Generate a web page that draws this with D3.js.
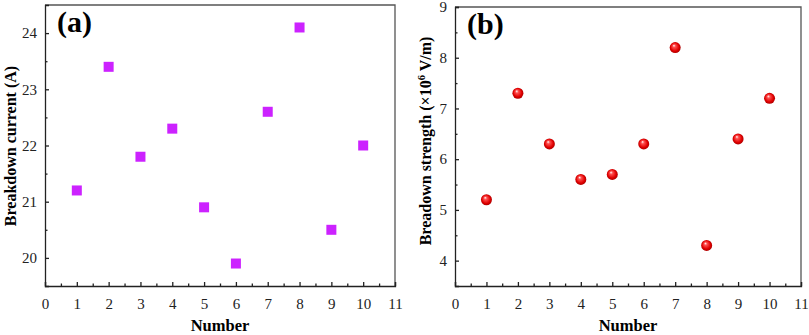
<!DOCTYPE html>
<html>
<head>
<meta charset="utf-8">
<script src="https://cdn.jsdelivr.net/npm/d3@7/dist/d3.min.js"></script>
<style>
  body { margin: 0; background: #fff; }
  svg { display: block; font-family: "Liberation Serif", "Times New Roman", serif; }
</style>
</head>
<body>
<div id="chart"></div>
<script>
const numbers = [1, 2, 3, 4, 5, 6, 7, 8, 9, 10];
const currentValues = [21.2, 23.4, 21.8, 22.3, 20.9, 19.9, 22.6, 24.1, 20.5, 22.0];
const strengthValues = [5.2, 7.3, 6.3, 5.6, 5.7, 6.3, 8.2, 4.3, 6.4, 7.2];
const xTicks = [0, 1, 2, 3, 4, 5, 6, 7, 8, 9, 10, 11];
const currentTicks = [20, 21, 22, 23, 24];
const strengthTicks = [4, 5, 6, 7, 8, 9];

const width = 809;
const height = 335;

const svg = d3.select('#chart').append('svg')
    .attr('width', width)
    .attr('height', height);

const defs = svg.append('defs');
const grad = defs.append('radialGradient')
    .attr('id', 'ball')
    .attr('cx', '50%').attr('cy', '50%').attr('r', '55%')
    .attr('fx', '38%').attr('fy', '30%');
grad.append('stop').attr('offset', '0%').attr('stop-color', '#ffffff');
grad.append('stop').attr('offset', '25%').attr('stop-color', '#ff5050');
grad.append('stop').attr('offset', '70%').attr('stop-color', '#e00000');
grad.append('stop').attr('offset', '100%').attr('stop-color', '#a00000');

function drawPanel(opts) {
  const g = svg.append('g');
  const x = d3.scaleLinear([0, 11], [opts.left, opts.right]);
  const y = d3.scaleLinear(opts.yDomain, [opts.bottom, opts.top]);

  // frame (top & right)
  g.append('path')
      .attr('d', `M${opts.left},${opts.top}H${opts.right}V${opts.bottom}`)
      .attr('fill', 'none')
      .attr('stroke', '#555')
      .attr('stroke-width', 1.3);

  // x axis
  g.append('g')
      .attr('transform', `translate(0,${opts.bottom})`)
      .call(d3.axisBottom(x).tickValues(xTicks).tickSize(-4).tickPadding(12).tickFormat(d3.format('d')));
  g.append('g')
      .attr('transform', `translate(0,${opts.bottom})`)
      .call(d3.axisBottom(x).tickValues(xTicks.slice(0, -1).map(d => d + 0.5)).tickSize(-2.5).tickFormat(''))
      .call(a => a.select('.domain').remove());

  // y axis
  g.append('g')
      .attr('transform', `translate(${opts.left},0)`)
      .call(d3.axisLeft(y).tickValues(opts.yTicks).tickSize(-4).tickPadding(8).tickFormat(d3.format('d')));
  const minor = opts.yTicks.map(d => d - 0.5).concat([opts.yTicks[opts.yTicks.length - 1] + 0.5])
      .filter(d => d > opts.yDomain[0] && d < opts.yDomain[1]);
  g.append('g')
      .attr('transform', `translate(${opts.left},0)`)
      .call(d3.axisLeft(y).tickValues(minor).tickSize(-2.5).tickFormat(''))
      .call(a => a.select('.domain').remove());

  g.selectAll('.domain, .tick line').attr('stroke', '#222').attr('stroke-width', 1.3);
  g.selectAll('.tick text')
      .attr('font-family', '"Liberation Serif", serif')
      .attr('font-size', 15)
      .attr('fill', '#222');

  // titles
  g.append('text')
      .attr('x', (opts.left + opts.right) / 2)
      .attr('y', 331)
      .attr('text-anchor', 'middle')
      .attr('font-weight', 'bold')
      .attr('font-size', 16.5)
      .text('Number');

  const yt = g.append('text')
      .attr('transform', `translate(${opts.yTitleX},${opts.yTitleY}) rotate(-90)`)
      .attr('text-anchor', 'middle')
      .attr('font-weight', 'bold')
      .attr('font-size', 16);
  opts.yTitle(yt);

  g.append('text')
      .attr('x', opts.left + 12)
      .attr('y', opts.top + 27)
      .attr('font-weight', 'bold')
      .attr('font-size', 30)
      .text(opts.label);

  return { g, x, y };
}

const a = drawPanel({
  left: 45, right: 395, top: 5, bottom: 286,
  yDomain: [19.5, 24.5], yTicks: currentTicks,
  yTitleX: 16, yTitleY: 146, label: '(a)',
  yTitle: t => t.text('Breakdown current (A)')
});

a.g.selectAll('rect.pt')
  .data(numbers)
  .join('rect')
    .attr('class', 'pt')
    .attr('x', (d, i) => a.x(d) - 5)
    .attr('y', (d, i) => a.y(currentValues[i]) - 5)
    .attr('width', 10)
    .attr('height', 10)
    .attr('fill', '#cc22ff');

const b = drawPanel({
  left: 455, right: 801, top: 7, bottom: 286,
  yDomain: [3.5, 9], yTicks: strengthTicks,
  yTitleX: 431, yTitleY: 141, label: '(b)',
  yTitle: t => {
    t.append('tspan').text('Breadown strength (×10');
    t.append('tspan').attr('font-size', 10.5).attr('dy', -6).text('6');
    t.append('tspan').attr('dy', 6).text(' V/m)');
  }
});

b.g.selectAll('circle.pt')
  .data(numbers)
  .join('circle')
    .attr('class', 'pt')
    .attr('cx', d => b.x(d))
    .attr('cy', (d, i) => b.y(strengthValues[i]))
    .attr('r', 5.5)
    .attr('fill', 'url(#ball)');
</script>
</body>
</html>
